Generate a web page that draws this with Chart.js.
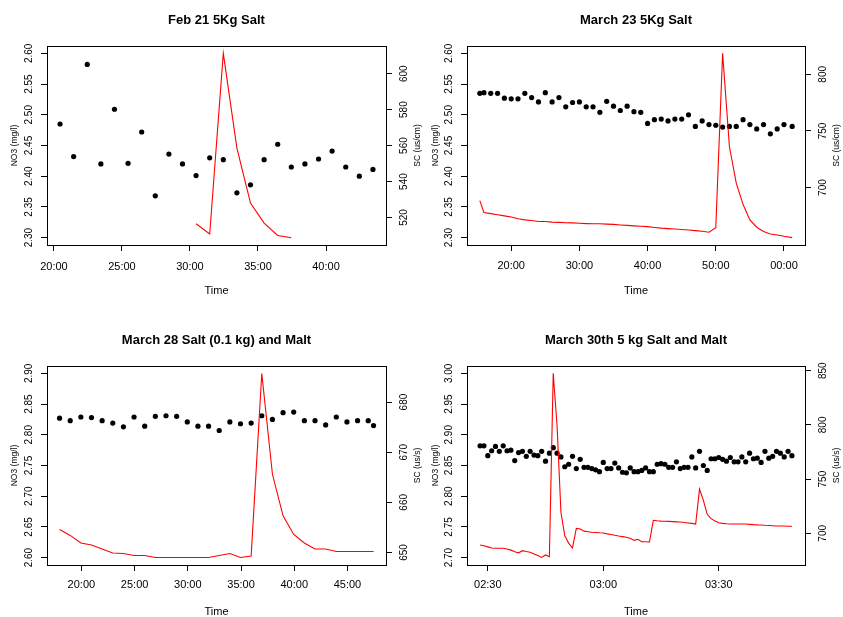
<!DOCTYPE html>
<html>
<head>
<meta charset="utf-8">
<title>NO3 and SC tracer runs</title>
<script src="https://cdn.jsdelivr.net/npm/chart.js@4.4.1/dist/chart.umd.min.js"></script>
<style>
  html, body { margin: 0; padding: 0; background: #fff; }
  #wrap { position: relative; width: 843px; height: 617px; overflow: hidden; }
  #wrap canvas { position: absolute; }
</style>
</head>
<body>
<div id="wrap">
  <canvas id="feb21" width="430" height="308" style="left:0;top:0"></canvas>
  <canvas id="mar28" width="430" height="309" style="left:0;top:308px"></canvas>
  <canvas id="mar23" width="422" height="308" style="left:421px;top:0"></canvas>
  <canvas id="mar30" width="422" height="309" style="left:421px;top:308px"></canvas>
</div>
<script>
// ---- Feb 21 5Kg Salt (time in minutes past the hour) ----
const feb21Time = [20.45, 21.45, 22.45, 23.45, 24.45, 25.45, 26.45, 27.45, 28.45, 29.45, 30.45, 31.45,
  32.45, 33.45, 34.45, 35.45, 36.45, 37.45, 38.45, 39.45, 40.45, 41.45, 42.45, 43.45];
const feb21NO3 = [2.485, 2.432, 2.582, 2.420, 2.509, 2.421, 2.472, 2.368, 2.436, 2.420, 2.401, 2.430,
  2.427, 2.373, 2.386, 2.427, 2.452, 2.415, 2.420, 2.428, 2.441, 2.415, 2.400, 2.411];
const feb21SCTime = [30.45, 31.45, 32.45, 33.45, 34.45, 35.45, 36.45, 37.45];
const feb21SC = [516.5, 510.8, 611.3, 558.6, 528.0, 516.9, 510.0, 508.7];

// ---- March 23 5Kg Salt ----
const mar23Time = [15.4, 16, 17, 18, 19, 20, 21, 22, 23, 24, 25, 26, 27, 28, 29, 30, 31, 32, 33, 34,
  35, 36, 37, 38, 39, 40, 41, 42, 43, 44, 45, 46, 47, 48, 49, 50, 51, 52, 53, 54, 55, 56, 57, 58, 59, 60, 61.2];
const mar23NO3 = [2.535, 2.536, 2.535, 2.535, 2.527, 2.526, 2.526, 2.535, 2.528, 2.521,
  2.536, 2.521, 2.528, 2.513, 2.520, 2.521, 2.513, 2.513, 2.504, 2.522,
  2.514, 2.507, 2.514, 2.505, 2.504, 2.486, 2.492, 2.493, 2.490, 2.493,
  2.493, 2.500, 2.481, 2.490, 2.484, 2.483, 2.480, 2.481, 2.481, 2.492,
  2.484, 2.477, 2.484, 2.469, 2.477, 2.484, 2.481];
const mar23SC = [688.5, 678, 677, 676, 675, 674, 672.5, 671.5, 671, 670,
  670, 669.5, 669.3, 669, 668.8, 668.5, 668.2, 668, 668, 667.7,
  667.5, 667, 666.6, 666.2, 665.9, 665.5, 664.8, 664.2, 663.8, 663.4,
  663, 662.6, 662, 661.4, 660.6, 664.5, 818.5, 736, 704, 685,
  671.5, 665, 661.3, 659, 658.2, 657, 655.8];

// ---- March 28 Salt (0.1 kg) and Malt ----
const mar28Time = [17.95, 18.95, 19.95, 20.95, 21.95, 22.95, 23.95, 24.95, 25.95, 26.95, 27.95,
  28.95, 29.95, 30.95, 31.95, 32.95, 33.95, 34.95, 35.95, 36.95, 37.95, 38.95, 39.95, 40.95,
  41.95, 42.95, 43.95, 44.95, 45.95, 46.95, 47.45];
const mar28NO3 = [2.827, 2.823, 2.829, 2.828, 2.823, 2.819, 2.813, 2.829, 2.814, 2.830, 2.831,
  2.830, 2.821, 2.814, 2.814, 2.807, 2.821, 2.818, 2.819, 2.831, 2.825, 2.836, 2.837, 2.823,
  2.823, 2.816, 2.829, 2.821, 2.823, 2.823, 2.815];
const mar28SC = [654.6, 653.4, 651.9, 651.5, 650.7, 649.9, 649.8, 649.4, 649.4, 649.0, 649.0,
  649.0, 649.0, 649.0, 649.0, 649.4, 649.8, 649.0, 649.3, 685.7, 665.6, 657.3, 653.6, 651.9,
  650.7, 650.7, 650.2, 650.2, 650.2, 650.2, 650.2];

// ---- March 30th 5 kg Salt and Malt (time in minutes after midnight) ----
const mar30Time = [148, 149, 150, 151, 152, 153, 154, 155, 156, 157, 158, 159, 160, 161, 162, 163,
  164, 165, 166, 167, 168, 169, 170, 171, 172, 173, 174, 175, 176, 177, 178, 179, 180, 181, 182,
  183, 184, 185, 186, 187, 188, 189, 190, 191, 192, 193, 194, 195, 196, 197, 198, 199, 200, 201,
  202, 203, 204, 205, 206, 207, 208, 209, 210, 211, 212, 213, 214, 215, 216, 217, 218, 219, 220,
  221, 222, 223, 224, 225, 226, 227, 228, 229];
const mar30NO3 = [2.882, 2.882, 2.866, 2.874, 2.881, 2.873, 2.882, 2.874, 2.875, 2.858, 2.871, 2.873,
  2.865, 2.873, 2.867, 2.866, 2.873, 2.857, 2.870, 2.879, 2.870, 2.864, 2.848, 2.852, 2.865, 2.845,
  2.860, 2.847, 2.847, 2.845, 2.843, 2.840, 2.855, 2.845, 2.845, 2.854, 2.846, 2.839, 2.838, 2.846,
  2.840, 2.840, 2.842, 2.846, 2.840, 2.840, 2.852, 2.853, 2.852, 2.847, 2.847, 2.856, 2.845, 2.847,
  2.847, 2.864, 2.846, 2.873, 2.850, 2.842, 2.861, 2.861, 2.863, 2.860, 2.857, 2.863, 2.856, 2.856,
  2.864, 2.856, 2.870, 2.861, 2.862, 2.855, 2.873, 2.862, 2.865, 2.873, 2.870, 2.864, 2.873, 2.866];
const mar30SC = [689.3, 688.5, 687.5, 686.5, 686.2, 686.2, 686.2, 685.5, 684.5, 683, 682, 684,
  683.2, 682.6, 681, 679.5, 677.8, 680.1, 678.5, 847.5, 799, 719.4, 697.8, 691, 686.5, 704.6,
  704, 702, 701.5, 701, 700.8, 700.5, 700.3, 699.5, 699, 698.2, 697.5, 697, 696.4, 695.5,
  693.5, 694.5, 692.3, 692.3, 692, 712, 711.6, 711.3, 711.1, 711, 710.8, 710.6, 710.4, 710,
  709.6, 709.2, 708.6, 740.8, 730.4, 717.5, 713.5, 711.4, 709.8, 709.2, 708.8, 708.6, 708.6,
  708.6, 708.6, 708.6, 708.3, 708, 707.8, 707.7, 707.4, 707.2, 707, 706.8, 706.8, 706.8, 706.6, 706.5];

// ---- tick marks ----
const no3TicksLow = [2.30, 2.35, 2.40, 2.45, 2.50, 2.55, 2.60];
const no3TicksMid = [2.60, 2.65, 2.70, 2.75, 2.80, 2.85, 2.90];
const no3TicksHigh = [2.70, 2.75, 2.80, 2.85, 2.90, 2.95, 3.00];
const feb21SCTicks = [520, 540, 560, 580, 600];
const mar23SCTicks = [700, 750, 800];
const mar28SCTicks = [650, 660, 670, 680];
const mar30SCTicks = [700, 750, 800, 850];
const feb21TimeTicks = [20, 25, 30, 35, 40];
const feb21TimeLabels = ['20:00', '25:00', '30:00', '35:00', '40:00'];
const mar23TimeTicks = [20, 30, 40, 50, 60];
const mar23TimeLabels = ['20:00', '30:00', '40:00', '50:00', '00:00'];
const mar28TimeTicks = [20, 25, 30, 35, 40, 45];
const mar28TimeLabels = ['20:00', '25:00', '30:00', '35:00', '40:00', '45:00'];
const mar30TimeTicks = [150, 180, 210];
const mar30TimeLabels = ['02:30', '03:00', '03:30'];

Chart.defaults.font.family = "'Liberation Sans', Arial, Helvetica, sans-serif";
Chart.defaults.color = '#000';

// box round the plot region + right axis title read bottom-to-top, like R
const rFrame = {
  id: 'rFrame',
  afterDraw(chart, args, opts) {
    const { ctx, chartArea: a } = chart;
    ctx.save();
    ctx.strokeStyle = '#000';
    ctx.lineWidth = 1;
    ctx.strokeRect(Math.round(a.left) + 0.5, Math.round(a.top) + 0.5,
      Math.round(a.right - a.left), Math.round(a.bottom - a.top));
    ctx.fillStyle = '#000';
    ctx.font = '8.5px ' + Chart.defaults.font.family;
    ctx.textAlign = 'center';
    ctx.textBaseline = 'middle';
    ctx.translate(a.right + opts.offset, (a.top + a.bottom) / 2);
    ctx.rotate(-Math.PI / 2);
    ctx.fillText(opts.text, 0, 0);
    ctx.restore();
  }
};

const setTicks = vals => scale => { scale.ticks = vals.map(v => ({ value: v })); };
const tickGrid = { drawOnChartArea: false, tickLength: 6, color: '#000' };

function drawPanel(p) {
  const canvas = document.getElementById(p.id);
  const W = canvas.width, H = canvas.height;
  new Chart(canvas, {
    type: 'line',
    data: {
      datasets: [
        {
          label: 'SC',
          data: p.scTime.map((t, i) => ({ x: t, y: p.sc[i] })),
          yAxisID: 'y1',
          borderColor: '#ff0000',
          borderWidth: 1.1,
          pointRadius: 0,
          tension: 0,
          order: 0
        },
        {
          label: 'NO3',
          data: p.time.map((t, i) => ({ x: t, y: p.no3[i] })),
          yAxisID: 'y',
          showLine: false,
          pointRadius: 2.6,
          pointBackgroundColor: '#000',
          pointBorderWidth: 0,
          order: 1
        }
      ]
    },
    options: {
      responsive: false,
      animation: false,
      devicePixelRatio: 1,
      layout: { padding: 0 },
      plugins: {
        legend: { display: false },
        tooltip: { enabled: false },
        title: {
          display: true,
          text: p.title,
          fullSize: false,
          color: '#000',
          font: { size: 13, weight: 'bold' },
          padding: { top: p.titleY - 7.8, bottom: p.box.t - p.titleY - 7.8 }
        },
        rFrame: { text: p.scTitle, offset: 32 }
      },
      scales: {
        x: {
          type: 'linear',
          position: 'bottom',
          min: p.xLim[0],
          max: p.xLim[1],
          afterBuildTicks: setTicks(p.xTicks),
          afterFit: s => { s.height = H - p.box.b; },
          ticks: {
            autoSkip: false, maxRotation: 0, font: { size: 11 },
            padding: p.xLabOff - 6 - 6.6,
            callback: v => p.xLabels[p.xTicks.indexOf(v)]
          },
          grid: tickGrid,
          border: { color: '#000' },
          title: { display: true, text: 'Time', font: { size: 11 }, padding: { top: 0, bottom: H - 6.6 - p.timeY } }
        },
        y: {
          position: 'left',
          min: p.yLim[0],
          max: p.yLim[1],
          afterBuildTicks: setTicks(p.yTicks),
          afterFit: s => { s.width = p.box.l; },
          ticks: {
            autoSkip: false, minRotation: 90, maxRotation: 90, crossAlign: 'center',
            padding: 2.3, font: { size: 10 },
            callback: v => v.toFixed(2)
          },
          grid: tickGrid,
          border: { color: '#000' },
          title: { display: true, text: 'NO3 (mg/l)', font: { size: 8.5 }, padding: { top: 9.9, bottom: 0 } }
        },
        y1: {
          position: 'right',
          min: p.y1Lim[0],
          max: p.y1Lim[1],
          afterBuildTicks: setTicks(p.y1Ticks),
          afterFit: s => { s.width = W - p.box.r; },
          ticks: {
            autoSkip: false, minRotation: 90, maxRotation: 90, crossAlign: 'center',
            padding: 3.7, font: { size: 10 },
            callback: v => String(v)
          },
          grid: tickGrid,
          border: { color: '#000' }
        }
      }
    },
    plugins: [rFrame]
  });
}

drawPanel({
  id: 'feb21', title: 'Feb 21 5Kg Salt', scTitle: 'SC (us/cm)',
  time: feb21Time, no3: feb21NO3, scTime: feb21SCTime, sc: feb21SC,
  box: { l: 47, r: 386, t: 46, b: 245 }, titleY: 20, xLabOff: 21.5, timeY: 291,
  xLim: [19.49, 44.41], yLim: [2.288, 2.612], y1Lim: [504.7, 615.4],
  xTicks: feb21TimeTicks, xLabels: feb21TimeLabels, yTicks: no3TicksLow, y1Ticks: feb21SCTicks
});
drawPanel({
  id: 'mar23', title: 'March 23 5Kg Salt', scTitle: 'SC (us/cm)',
  time: mar23Time, no3: mar23NO3, scTime: mar23Time, sc: mar23SC,
  box: { l: 46, r: 384, t: 46, b: 245 }, titleY: 20, xLabOff: 21, timeY: 291,
  xLim: [13.52, 63.08], yLim: [2.288, 2.612], y1Lim: [649.3, 825.0],
  xTicks: mar23TimeTicks, xLabels: mar23TimeLabels, yTicks: no3TicksLow, y1Ticks: mar23SCTicks
});
drawPanel({
  id: 'mar28', title: 'March 28 Salt (0.1 kg) and Malt', scTitle: 'SC (us/s)',
  time: mar28Time, no3: mar28NO3, scTime: mar28Time, sc: mar28SC,
  box: { l: 47, r: 386, t: 58, b: 257 }, titleY: 32, xLabOff: 20.3, timeY: 304,
  xLim: [16.77, 48.62], yLim: [2.588, 2.912], y1Lim: [647.5, 687.2],
  xTicks: mar28TimeTicks, xLabels: mar28TimeLabels, yTicks: no3TicksMid, y1Ticks: mar28SCTicks
});
drawPanel({
  id: 'mar30', title: 'March 30th 5 kg Salt and Malt', scTitle: 'SC (us/s)',
  time: mar30Time, no3: mar30NO3, scTime: mar30Time, sc: mar30SC,
  box: { l: 46, r: 384, t: 58, b: 257 }, titleY: 32, xLabOff: 20, timeY: 304,
  xLim: [144.6, 232.4], yLim: [2.688, 3.012], y1Lim: [670.8, 854.3],
  xTicks: mar30TimeTicks, xLabels: mar30TimeLabels, yTicks: no3TicksHigh, y1Ticks: mar30SCTicks
});
</script>
</body>
</html>
